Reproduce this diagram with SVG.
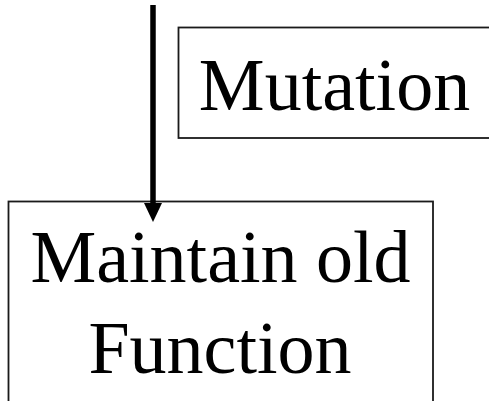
<svg xmlns="http://www.w3.org/2000/svg" width="489" height="401" viewBox="0 0 489 401">
  <style>
    .box { fill: #ffffff; stroke: #1a1a1a; stroke-width: 1.8; }
    .label { font-family: "Liberation Serif", "Times New Roman", serif; font-size: 74px; fill: #000000; text-anchor: middle; }
    .edge { stroke: #000000; stroke-width: 5.5; fill: none; }
  </style>
  <defs>
    <!-- arrowhead starts where the shaft stops, so the shaft never pokes through the tip -->
    <marker id="arrowhead" markerUnits="userSpaceOnUse" markerWidth="19" markerHeight="18" refX="0" refY="9" orient="auto" viewBox="0 0 19 18">
      <path d="M0,0 L19,9 L0,18 Z" fill="#000000"/>
    </marker>
  </defs>
  <rect width="489" height="401" fill="#ffffff"/>

  <g id="node-mutation">
    <rect class="box" x="178.5" y="27.5" width="320" height="110.5"/>
    <text class="label" x="334.5" y="110">Mutation</text>
  </g>

  <g id="node-maintain">
    <rect class="box" x="8.5" y="201.5" width="424.5" height="215"/>
    <text class="label" x="220.5" y="282">Maintain old</text>
    <text class="label" x="220" y="373">Function</text>
  </g>

  <g id="connectors">
    <line class="edge" x1="153" y1="5" x2="153" y2="203" marker-end="url(#arrowhead)"/>
  </g>
</svg>
